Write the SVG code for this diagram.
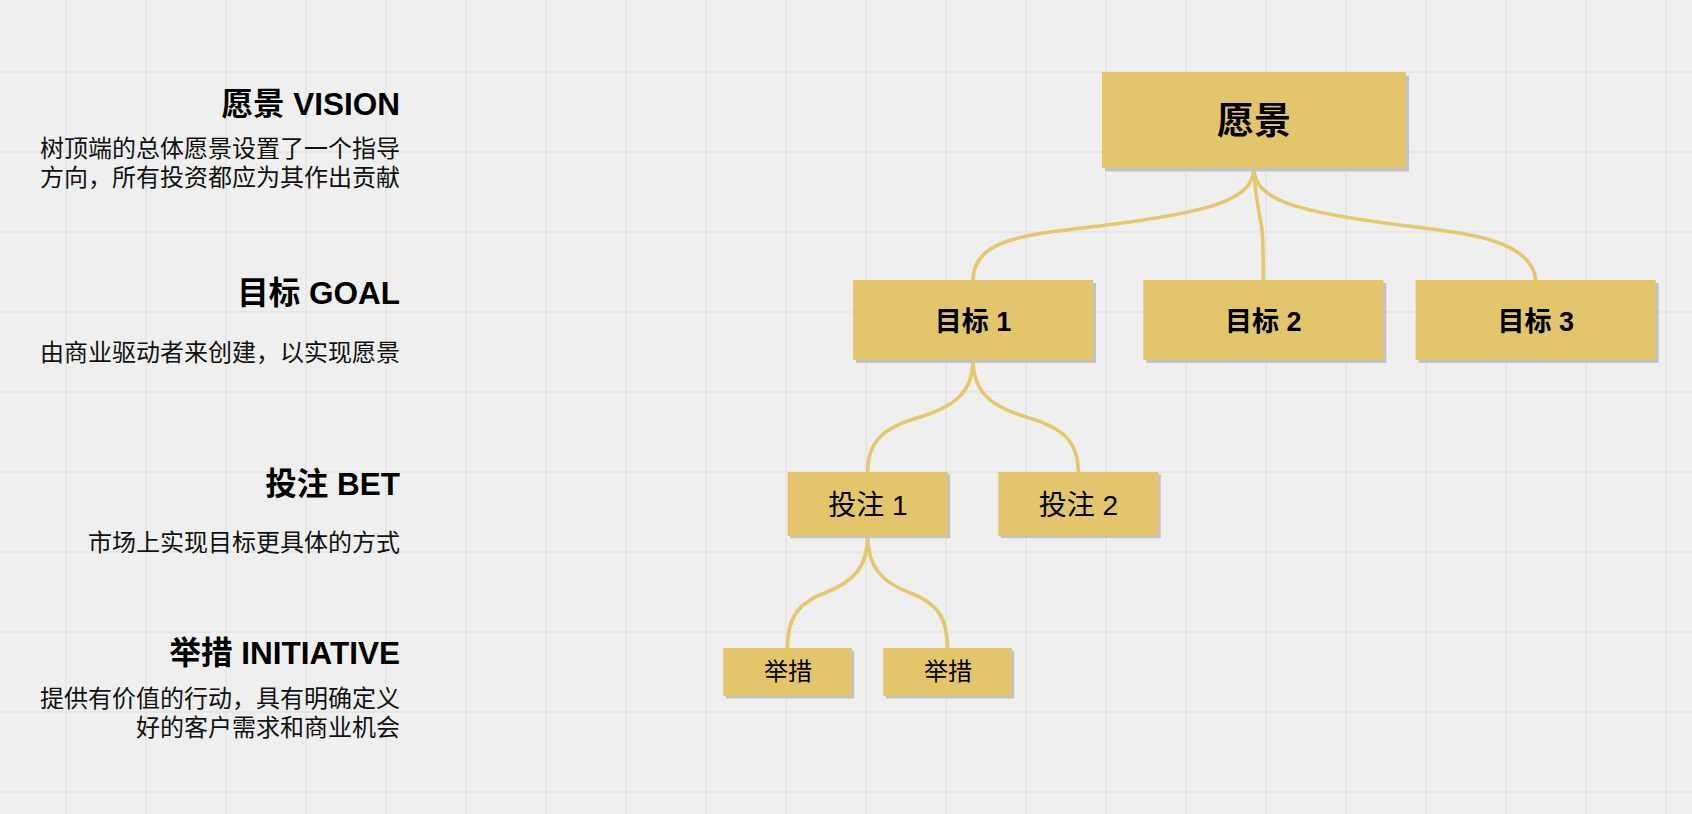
<svg xmlns="http://www.w3.org/2000/svg" width="1692" height="814" viewBox="0 0 1692 814">
<defs>
<style>
.grid line{stroke:#e3e3e3;stroke-width:1.4}
.shadow{fill:#c2c2c2}
.box{fill:#e3c66b}
.edge{fill:none;stroke:#e5c86b;stroke-width:3.6;stroke-linecap:round}
text{font-family:"Liberation Sans","Noto Sans CJK SC",sans-serif;fill:#000}
.h{font-size:31.5px;font-weight:bold;text-anchor:end}
.d{font-size:24px;text-anchor:end;fill:#111}
.n{text-anchor:middle}
.nv{font-size:37px;font-weight:bold}
.ng{font-size:27px;font-weight:bold}
.nb{font-size:28px}
.ni{font-size:24px}
</style>
</defs>
<rect x="0" y="0" width="1692" height="814" fill="#efefef"/>
<g class="grid">
<line x1="66" y1="0" x2="66" y2="814"/><line x1="146" y1="0" x2="146" y2="814"/><line x1="226" y1="0" x2="226" y2="814"/><line x1="306" y1="0" x2="306" y2="814"/><line x1="386" y1="0" x2="386" y2="814"/><line x1="466" y1="0" x2="466" y2="814"/><line x1="546" y1="0" x2="546" y2="814"/><line x1="626" y1="0" x2="626" y2="814"/><line x1="706" y1="0" x2="706" y2="814"/><line x1="786" y1="0" x2="786" y2="814"/><line x1="866" y1="0" x2="866" y2="814"/><line x1="946" y1="0" x2="946" y2="814"/><line x1="1026" y1="0" x2="1026" y2="814"/><line x1="1106" y1="0" x2="1106" y2="814"/><line x1="1186" y1="0" x2="1186" y2="814"/><line x1="1266" y1="0" x2="1266" y2="814"/><line x1="1346" y1="0" x2="1346" y2="814"/><line x1="1426" y1="0" x2="1426" y2="814"/><line x1="1506" y1="0" x2="1506" y2="814"/><line x1="1586" y1="0" x2="1586" y2="814"/><line x1="1666" y1="0" x2="1666" y2="814"/>
<line x1="0" y1="72" x2="1692" y2="72"/><line x1="0" y1="152" x2="1692" y2="152"/><line x1="0" y1="232" x2="1692" y2="232"/><line x1="0" y1="312" x2="1692" y2="312"/><line x1="0" y1="392" x2="1692" y2="392"/><line x1="0" y1="472" x2="1692" y2="472"/><line x1="0" y1="552" x2="1692" y2="552"/><line x1="0" y1="632" x2="1692" y2="632"/><line x1="0" y1="712" x2="1692" y2="712"/><line x1="0" y1="792" x2="1692" y2="792"/>
</g>
<g id="labels">
<text class="h" x="400" y="114.5">愿景 VISION</text>
<text class="d" x="400" y="157">树顶端的总体愿景设置了一个指导</text>
<text class="d" x="400" y="186">方向，所有投资都应为其作出贡献</text>
<text class="h" x="400" y="304">目标 GOAL</text>
<text class="d" x="400" y="361">由商业驱动者来创建，以实现愿景</text>
<text class="h" x="400" y="494.7">投注 BET</text>
<text class="d" x="400" y="550.5">市场上实现目标更具体的方式</text>
<text class="h" x="400" y="663.5">举措 INITIATIVE</text>
<text class="d" x="400" y="707">提供有价值的行动，具有明确定义</text>
<text class="d" x="400" y="736">好的客户需求和商业机会</text>
</g>
<g id="connectors">
<path class="edge" d="M1253.8,168 C1253.8,200 1210,212 1107,225 C1035,234 973,236 973,280"/>
<path class="edge" d="M1253.8,168 C1255,195 1259,212 1261.5,226 C1263,236 1263.3,250 1263.3,280"/>
<path class="edge" d="M1253.8,168 C1253.8,200 1297,212 1400,225 C1450,232 1532,236 1535.7,280"/>
<path class="edge" d="M973,360 C973,395 950,408 920,417 C885,427 867.7,440 867.7,472"/>
<path class="edge" d="M973,360 C973,395 996,408 1026,417 C1061,427 1078.3,440 1078.3,472"/>
<path class="edge" d="M867.7,536 C867.7,568 852,582 827,592 C800,602 787.5,615 787.5,648"/>
<path class="edge" d="M867.7,536 C867.7,568 883,582 908,592 C935,602 947.5,615 947.5,648"/>
</g>
<g id="vision">
<rect class="shadow" x="1105" y="75.5" width="304" height="96"/>
<rect class="box" x="1102" y="72" width="304" height="96"/>
<text class="n nv" x="1254" y="133.5">愿景</text>
</g>
<g id="goal1">
<rect class="shadow" x="856" y="283" width="240" height="80"/>
<rect class="box" x="853" y="280" width="240" height="80"/>
<text class="n ng" x="973" y="330.5">目标 1</text>
</g>
<g id="goal2">
<rect class="shadow" x="1146.3" y="283" width="240" height="80"/>
<rect class="box" x="1143.3" y="280" width="240" height="80"/>
<text class="n ng" x="1263.3" y="330.5">目标 2</text>
</g>
<g id="goal3">
<rect class="shadow" x="1418.7" y="283" width="240" height="80"/>
<rect class="box" x="1415.7" y="280" width="240" height="80"/>
<text class="n ng" x="1535.7" y="330.5">目标 3</text>
</g>
<g id="bet1">
<rect class="shadow" x="790.2" y="474.2" width="160" height="64"/>
<rect class="box" x="787.7" y="472" width="160" height="64"/>
<text class="n nb" x="868" y="514.5">投注 1</text>
</g>
<g id="bet2">
<rect class="shadow" x="1000.8" y="474.2" width="160" height="64"/>
<rect class="box" x="998.3" y="472" width="160" height="64"/>
<text class="n nb" x="1078.5" y="514.5">投注 2</text>
</g>
<g id="init1">
<rect class="shadow" x="725.8" y="650.5" width="128.4" height="48"/>
<rect class="box" x="723.3" y="648" width="128.4" height="48"/>
<text class="n ni" x="788" y="680">举措</text>
</g>
<g id="init2">
<rect class="shadow" x="885.8" y="650.5" width="128.4" height="48"/>
<rect class="box" x="883.3" y="648" width="128.4" height="48"/>
<text class="n ni" x="948" y="680">举措</text>
</g>
</svg>
